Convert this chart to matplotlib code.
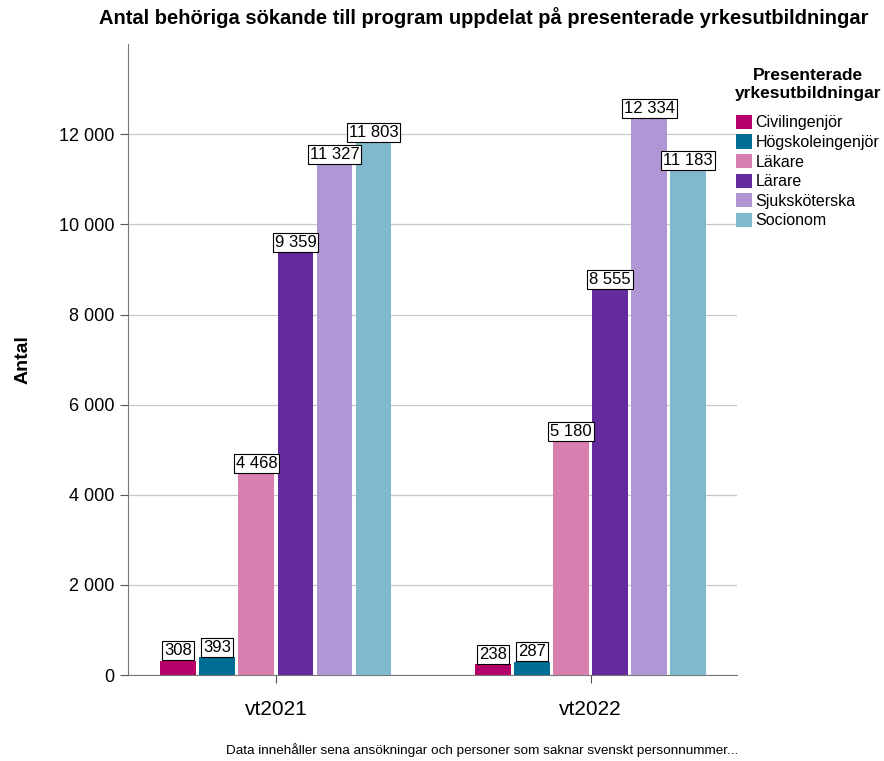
import matplotlib.pyplot as plt
import numpy as np
from matplotlib.ticker import FuncFormatter

terms = ["vt2021", "vt2022"]
programs = ["Civilingenjör", "Högskoleingenjör", "Läkare", "Lärare", "Sjuksköterska", "Socionom"]
counts = {
    "Civilingenjör": [308, 238],
    "Högskoleingenjör": [393, 287],
    "Läkare": [4468, 5180],
    "Lärare": [9359, 8555],
    "Sjuksköterska": [11327, 12334],
    "Socionom": [11803, 11183],
}
colors = ["#b5006a", "#006d94", "#d87fb0", "#652b9e", "#b096d4", "#80b8cd"]


def fmt(v):
    return f"{int(v):,}".replace(",", " ")


plt.rcParams["font.family"] = ["Liberation Sans", "DejaVu Sans"]
figure = plt.figure(figsize=(8.84, 7.61), dpi=100)
axis = figure.add_axes([0.1448, 0.113, 0.689, 0.829])

x = np.arange(len(terms))
step = 0.124
width = 0.114
for i, name in enumerate(programs):
    pos = x + (i - 2.5) * step
    bars = axis.bar(pos, counts[name], width=width, color=colors[i], label=name, zorder=3)
    for b, v in zip(bars, counts[name]):
        axis.annotate(fmt(v), (b.get_x() + b.get_width() / 2, v), xytext=(0, 2),
                      textcoords="offset points", ha="center", va="bottom", fontsize=12,
                      bbox=dict(boxstyle="square,pad=0.12", fc="white", ec="black", lw=0.8),
                      zorder=4)

axis.set_xlim(-0.47, 1.465)
axis.set_ylim(0, 14000)
axis.set_yticks(range(0, 14000, 2000))
axis.yaxis.set_major_formatter(FuncFormatter(lambda v, p: fmt(v)))
axis.set_xticks(x)
axis.set_xticklabels(terms)
axis.tick_params(axis="y", labelsize=13, color="#555555", length=6)
axis.tick_params(axis="x", labelsize=15, color="#555555", length=6, pad=12)
axis.grid(axis="y", color="#c8c8c8", lw=0.9, zorder=0)
for side in ["top", "right"]:
    axis.spines[side].set_visible(False)
for side in ["left", "bottom"]:
    axis.spines[side].set_color("#777777")
axis.set_ylabel("Antal", fontsize=14, fontweight="bold", labelpad=20)

figure.text(0.547, 0.977, "Antal behöriga sökande till program uppdelat på presenterade yrkesutbildningar",
            ha="center", va="center", fontsize=14.5, fontweight="bold")
figure.text(0.545, 0.014, "Data innehåller sena ansökningar och personer som saknar svenskt personnummer...",
            ha="center", va="center", fontsize=9.7)

leg = axis.legend(title="Presenterade\nyrkesutbildningar", loc="upper left", bbox_to_anchor=(0.993, 0.964),
                  frameon=False, fontsize=11.5, handlelength=1.0, handleheight=1.0,
                  handletextpad=0.2, labelspacing=0.25, borderaxespad=0.0, borderpad=0.1)
leg.get_title().set_fontweight("bold")
leg.get_title().set_fontsize(12.5)
leg.get_title().set_multialignment("center")
leg._legend_box.sep = 10

figure.savefig("out.png", dpi=100)
